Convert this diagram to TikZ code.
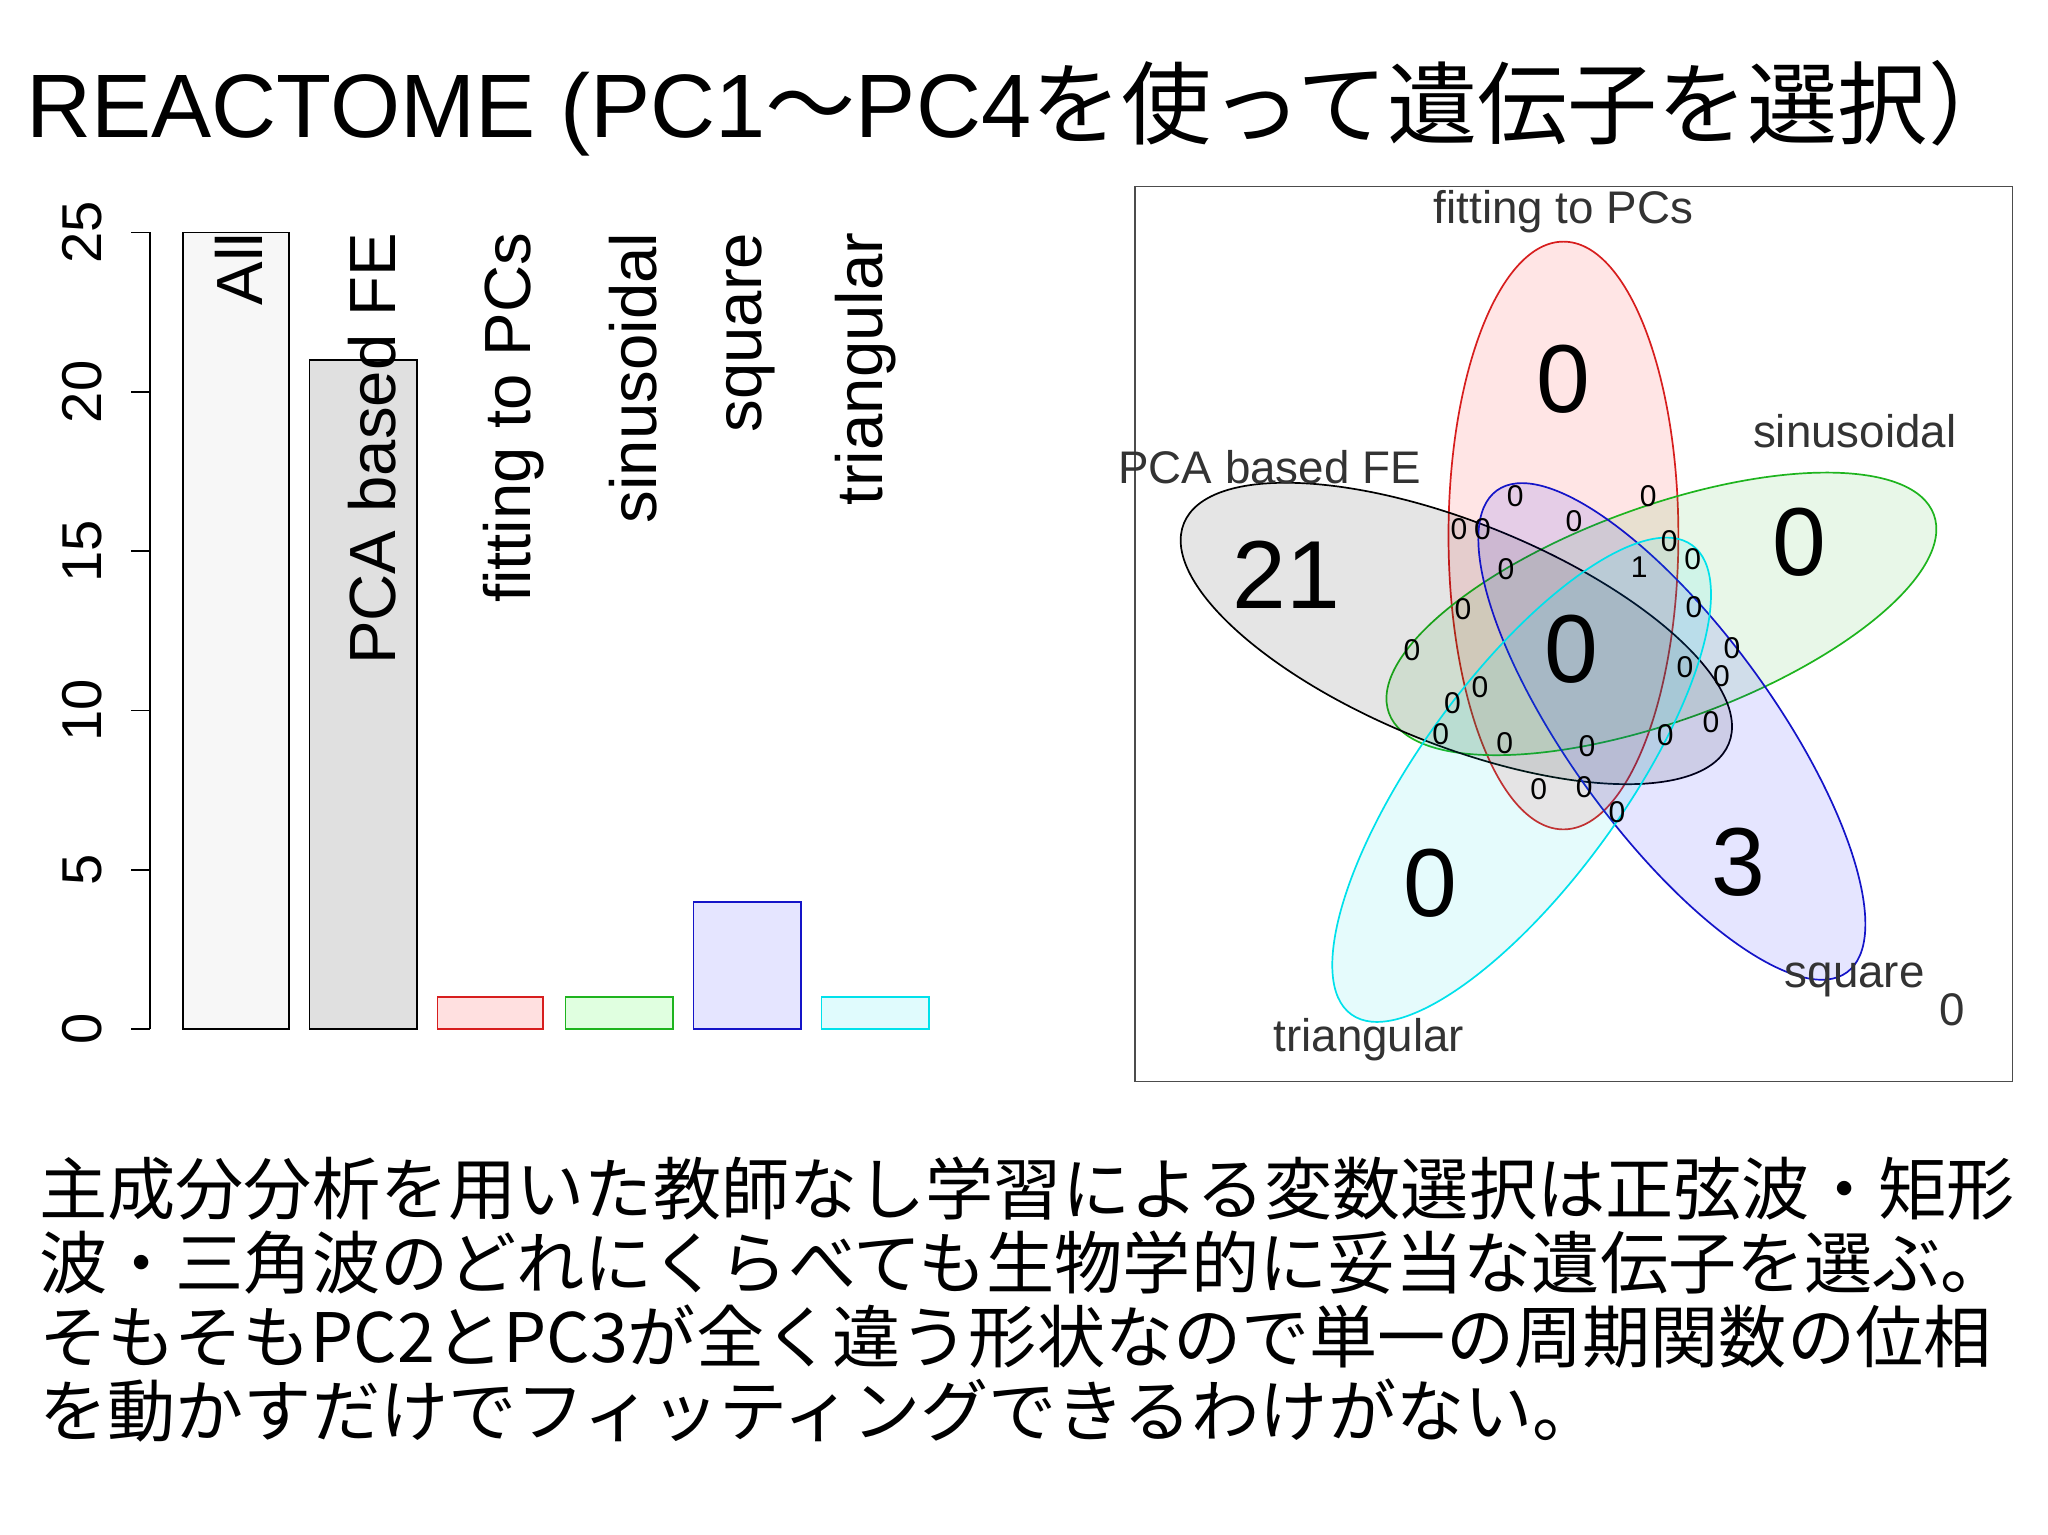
\documentclass[tikz,border=0pt]{standalone}
\usepackage{fontspec}
\setmainfont{Liberation Sans}
\newfontfamily\cjk{Noto Sans CJK JP}
\definecolor{cy}{RGB}{0,225,235}
\definecolor{rd}{RGB}{215,30,30}
\definecolor{gn}{RGB}{30,180,30}
\definecolor{bl}{RGB}{20,20,200}
\begin{document}
\begin{tikzpicture}[x=1pt,y=-1pt,
  bar/.style={draw,line width=1.4pt},
  blab/.style={rotate=90,anchor=east,inner sep=0pt,font=\fontsize{50}{54}\selectfont},
  tick/.style={rotate=90,inner sep=0pt,font=\fontsize{43}{46}\selectfont},
  vlab/.style={inner sep=0pt,font=\fontsize{35}{38}\selectfont,text=black!80},
  big/.style={inner sep=0pt,font=\fontsize{74}{78}\selectfont},
  sm/.style={inner sep=0pt,font=\fontsize{23}{25}\selectfont},
  body/.style={anchor=west,inner sep=0pt,font=\fontsize{52.2}{56}\selectfont\cjk}]
\useasboundingbox[fill=white] (0,0) rectangle (1568,1175);
% title
\node[anchor=west,inner sep=0pt,font=\fontsize{69}{72}\selectfont] (title) at (20,83) {REACTOME (PC1{\cjk ～}PC4{\cjk を使って遺伝子を選択）}};
% axis
\draw[line width=1.2pt] (115,178) -- (115,788);
\foreach \v in {0,5,10,15,20,25}{
  \draw[line width=1.2pt] (115,{788-24.4*\v}) -- (100,{788-24.4*\v});
  \node[tick] (t\v) at (63,{788-24.4*\v}) {\v};}
% bars
\draw[bar,fill=black!3] (140,788) rectangle (221,{788-24.4*25});
\draw[bar,fill=black!12] (237,788) rectangle (319,{788-24.4*21});
\draw[bar,draw=rd,fill=red!12] (335,788) rectangle (416,{788-24.4});
\draw[bar,draw=gn,fill=green!12] (433,788) rectangle (515,{788-24.4});
\draw[bar,draw=bl,fill=blue!10] (531,788) rectangle (613,{788-24.4*4});
\draw[bar,draw=cy,fill=cy!12] (629,788) rectangle (711,{788-24.4});
\node[blab] (l1) at (183,178) {All};
\node[blab] (l2) at (285,178) {PCA based FE};
\node[blab] (l3) at (393,178) {fitting to PCs};
\node[blab] (l4) at (485,178) {sinusoidal};
\node[blab] (l5) at (575,178) {square};
\node[blab] (l6) at (663,178) {triangular};
% venn
\draw[line width=1pt,black!70] (869,143) rectangle (1541,828);
\begin{scope}[line width=1.3pt,fill opacity=0.1]
\draw[rd,fill=red] (1197,410) ellipse [x radius=88,y radius=225];
\draw[gn,fill=gn,rotate around={20:(1272,470)}] (1272,470) ellipse [x radius=222,y radius=82];
\draw[black,fill=black,rotate around={-22:(1115,485)}] (1115,485) ellipse [x radius=225,y radius=85];
\draw[bl,fill=blue,rotate around={-54:(1280,560)}] (1280,560) ellipse [x radius=228,y radius=78];
\draw[cy,fill=cy,rotate around={54:(1165,597)}] (1165,597) ellipse [x radius=222,y radius=78];
\end{scope}
\node[vlab] (v1) at (1197,162) {fitting to PCs};
\node[vlab] (v2) at (1420,330) {sinusoidal};
\node[vlab] (v3) at (972,358) {PCA based FE};
\node[vlab] (v4) at (1420,750) {square};
\node[vlab] (v5) at (1048,796) {triangular};
\node[vlab] (v6) at (1495,773) {0};
\node[big] (b1) at (1197,290) {0};
\node[big] (b2) at (1378,415) {0};
\node[big] (b3) at (985,440) {21};
\node[big] (b4) at (1203,497) {0};
\node[big] (b5) at (1095,676) {0};
\node[big] (b6) at (1331,660) {3};
\foreach \x/\y [count=\i] in {1160/380,1262/380,1117/405,1135/405,1205/399,1278/414,1296/428,1153/436,1120/466,1297/465,1081/498,1326/496,1290/511,1318/518,1112/538,1133/526,1103/562,1152/569,1215/571,1275/563,1310/553,1178/604,1213/603,1238/622}
  \node[sm] (s\i) at (\x,\y) {0};
\node[sm] (s1x) at (1255,434) {1};
% body
\node[body] (p1) at (30,910) {主成分分析を用いた教師なし学習による変数選択は正弦波・矩形};
\node[body] (p2) at (30,967) {波・三角波のどれにくらべても生物学的に妥当な遺伝子を選ぶ。};
\node[body] (p3) at (30,1023) {そもそもPC2とPC3が全く違う形状なので単一の周期関数の位相};
\node[body] (p4) at (30,1080) {を動かすだけでフィッティングできるわけがない。};
\end{tikzpicture}
\end{document}
